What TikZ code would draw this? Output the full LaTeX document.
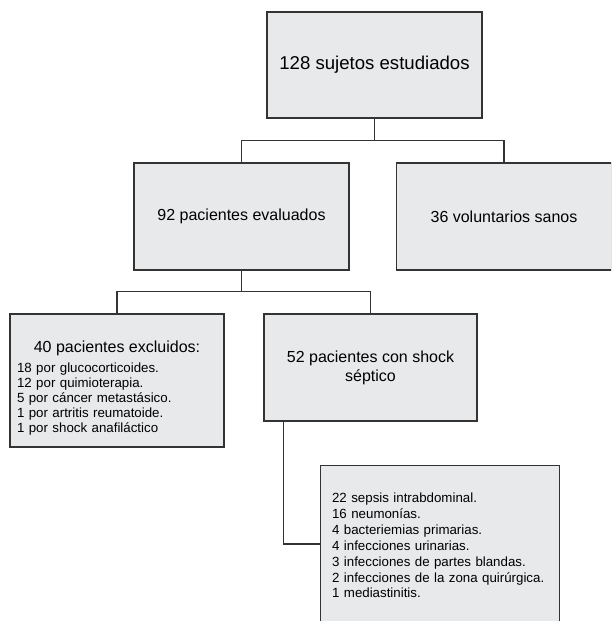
\documentclass[tikz,border=0pt]{standalone}
\usepackage{fontspec}
\setmainfont{Liberation Sans}
\usetikzlibrary{positioning}
\definecolor{boxfill}{HTML}{E8E9EB}
\definecolor{boxline}{HTML}{333333}

\begin{document}
\begin{tikzpicture}[
        x=1pt, y=-1pt,
        box/.style={draw=boxline, fill=boxfill, line width=1.2pt, align=center, inner sep=0pt, font=\fontsize{16}{19}\selectfont},
        small/.style={font=\fontsize{13.3}{15}\selectfont},
        link/.style={draw=boxline, line width=1.2pt}
      ]
    \useasboundingbox (0,0) rectangle (611,621);
    \clip (0,0) rectangle (611,621);

    % boxes
    \node[box, minimum width=215, minimum height=106, font=\fontsize{18.6}{22}\selectfont] (total) at (374.5,65) {128 sujetos estudiados};
    \node[box, minimum width=215, minimum height=107] (patients) at (241.5,216.5) {92 pacientes evaluados};
    \node[box, minimum width=215, minimum height=107] (healthy) at (504,216.5) {36 voluntarios sanos};
    \node[box, small, minimum width=214, minimum height=133, text width=200, align=left] (excluded) at (117,380.5)
        {{\fontsize{16}{19}\selectfont\rule{0pt}{25.8pt}\makebox[200pt]{40 pacientes excluidos:}}\\[5pt]
         18 por glucocorticoides.\\
         12 por quimioterapia.\\
         5 por cáncer metastásico.\\
         1 por artritis reumatoide.\\
         1 por shock anafiláctico};
    \node[box, minimum width=213, minimum height=107] (septic) at (370.5,367.5) {52 pacientes con shock\\séptico};
    \node[box, font=\fontsize{13.3}{15.9}\selectfont, anchor=north west, text width=216, align=left, inner xsep=11.5pt, inner ysep=27.3pt] (sources) at (320,465)
        {\hyphenpenalty=10000
         22 sepsis intrabdominal.\\
         16 neumonías.\\
         4 bacteriemias primarias.\\
         4 infecciones urinarias.\\
         3 infecciones de partes blandas.\\
         2 infecciones de la zona quirúrgica.\\
         1 mediastinitis.\par\vspace*{40pt}};

    % connectors
    \draw[link] (total.south) -- ++(0,22) coordinate (split1);
    \draw[link] (patients.north) |- (split1) -| (healthy.north);
    \draw[link] (patients.south) -- ++(0,21) coordinate (split2);
    \draw[link] (excluded.north) |- (split2) -| (septic.north);
    \draw[link] ([xshift=20pt]septic.south west) |- ([yshift=-79pt]sources.north west);

\end{tikzpicture}
\end{document}
